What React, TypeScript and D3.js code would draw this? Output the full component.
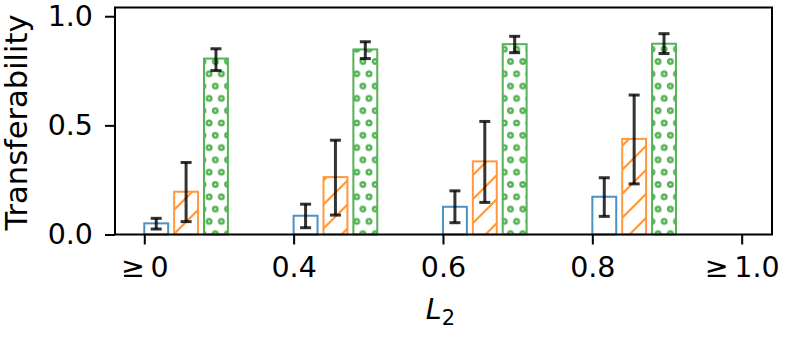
import React, { useEffect, useRef } from 'react';
import * as d3 from 'd3';

// tick labels on the x axis (last slot holds no bars)
const categories = ['≥\u20090', '0.4', '0.6', '0.8', '≥\u20091.0'];
const yTicks = [0, 0.5, 1.0];

// three series, one value per bin, with error bar bounds
const blueVals = [0.051, 0.086, 0.127, 0.173];
const blueLo = [0.025, 0.031, 0.054, 0.083];
const blueHi = [0.074, 0.139, 0.2, 0.26];

const orangeVals = [0.196, 0.263, 0.335, 0.438];
const orangeLo = [0.059, 0.089, 0.147, 0.232];
const orangeHi = [0.33, 0.432, 0.518, 0.639];

const greenVals = [0.806, 0.848, 0.872, 0.874];
const greenLo = [0.751, 0.806, 0.833, 0.829];
const greenHi = [0.851, 0.883, 0.908, 0.92];

const W = 789;
const H = 338;
const FONT = 'DejaVu Sans, sans-serif';

const Chart = () => {
    const chartRef = useRef<SVGSVGElement>(null);

    useEffect(() => {
        drawChart();
    }, []);

    const drawChart = () => {
        const svg = d3.select(chartRef.current);
        svg.selectAll('*').remove();

        const margin = { top: 7.5, right: 17, bottom: 103.5, left: 115 };

        const x = d3.scaleLinear()
            .domain([-0.196, 4.203])
            .range([margin.left, W - margin.right]);

        const y = d3.scaleLinear()
            .domain([0, 1.04])
            .range([H - margin.bottom, margin.top]);

        const defs = svg.append('defs');

        // '/' hatch
        const diag = defs.append('pattern')
            .attr('id', 'hatch-diag')
            .attr('patternUnits', 'userSpaceOnUse')
            .attr('width', 24)
            .attr('height', 24);
        diag.append('path')
            .attr('d', 'M-6,6 L6,-6 M0,24 L24,0 M18,30 L30,18')
            .attr('stroke', '#ff7f0e')
            .attr('stroke-width', 2.2);

        // 'o' hatch
        const s = 12.3;
        const dots = defs.append('pattern')
            .attr('id', 'hatch-dots')
            .attr('patternUnits', 'userSpaceOnUse')
            .attr('width', s)
            .attr('height', s * 2);
        [[0, 0], [s, 0], [0, 2 * s], [s, 2 * s], [s / 2, s]].forEach(([cx, cy]) => {
            dots.append('circle')
                .attr('cx', cx)
                .attr('cy', cy)
                .attr('r', 2.2)
                .attr('fill', 'none')
                .attr('stroke', '#2ca02c')
                .attr('stroke-width', 2.6);
        });

        const series = [
            { vals: blueVals, lo: blueLo, hi: blueHi, color: '#1f77b4', fill: 'white' },
            { vals: orangeVals, lo: orangeLo, hi: orangeHi, color: '#ff7f0e', fill: 'url(#hatch-diag)' },
            { vals: greenVals, lo: greenLo, hi: greenHi, color: '#2ca02c', fill: 'url(#hatch-dots)' },
        ];

        const barW = 0.16;
        const step = 0.2;

        series.forEach((sr, j) => {
            svg.append('g')
                .attr('opacity', 0.8)
                .selectAll('rect')
                .data(sr.vals)
                .enter().append('rect')
                .attr('x', (d, i) => x(i + j * step))
                .attr('y', d => y(d))
                .attr('width', x(barW) - x(0))
                .attr('height', d => y(0) - y(d))
                .attr('fill', sr.fill)
                .attr('stroke', sr.color)
                .attr('stroke-width', 2);
        });

        // error bars
        series.forEach((sr, j) => {
            const g = svg.append('g')
                .attr('stroke', 'black')
                .attr('stroke-opacity', 0.8)
                .attr('stroke-width', 3);
            sr.vals.forEach((d, i) => {
                const cx = x(i + j * step + barW / 2);
                g.append('line')
                    .attr('x1', cx).attr('x2', cx)
                    .attr('y1', y(sr.lo[i])).attr('y2', y(sr.hi[i]));
                [sr.lo[i], sr.hi[i]].forEach(v => {
                    g.append('line')
                        .attr('x1', cx - 5.5).attr('x2', cx + 5.5)
                        .attr('y1', y(v)).attr('y2', y(v));
                });
            });
        });

        // frame
        svg.append('rect')
            .attr('x', margin.left)
            .attr('y', margin.top)
            .attr('width', W - margin.right - margin.left)
            .attr('height', H - margin.bottom - margin.top)
            .attr('fill', 'none')
            .attr('stroke', 'black')
            .attr('stroke-width', 2);

        const xAxis = svg.append('g')
            .attr('transform', `translate(0,${H - margin.bottom})`)
            .call(d3.axisBottom(x)
                .tickValues(d3.range(categories.length))
                .tickFormat((d) => categories[d as number])
                .tickSize(10)
                .tickPadding(12));
        xAxis.select('.domain').remove();
        xAxis.selectAll('line').attr('stroke-width', 2);
        xAxis.selectAll('text')
            .attr('font-family', FONT)
            .attr('font-size', 28.5)
            .attr('fill', 'black');

        const yAxis = svg.append('g')
            .attr('transform', `translate(${margin.left},0)`)
            .call(d3.axisLeft(y)
                .tickValues(yTicks)
                .tickFormat(d3.format('.1f'))
                .tickSize(10)
                .tickPadding(12));
        yAxis.select('.domain').remove();
        yAxis.selectAll('line').attr('stroke-width', 2);
        yAxis.selectAll('text')
            .attr('font-family', FONT)
            .attr('font-size', 28.5)
            .attr('fill', 'black');

        // axis titles
        const xl = svg.append('text')
            .attr('x', (margin.left + W - margin.right) / 2 - 3)
            .attr('y', 318.5)
            .attr('text-anchor', 'middle')
            .attr('font-family', FONT)
            .attr('font-size', 28.5);
        xl.append('tspan').attr('font-style', 'italic').text('L');
        xl.append('tspan').attr('font-size', 21).attr('dy', 6).text('2');

        svg.append('text')
            .attr('transform', `translate(27,${(margin.top + H - margin.bottom) / 2 + 1.5}) rotate(-90)`)
            .attr('text-anchor', 'middle')
            .attr('font-family', FONT)
            .attr('font-size', 30.5)
            .text('Transferability');
    };

    return (
        <svg
            ref={chartRef}
            width={W}
            height={H}
            style={{ position: 'absolute', left: 0, top: 0, background: 'white' }}
        />
    );
};

export default function App() {
    return <Chart />;
}
